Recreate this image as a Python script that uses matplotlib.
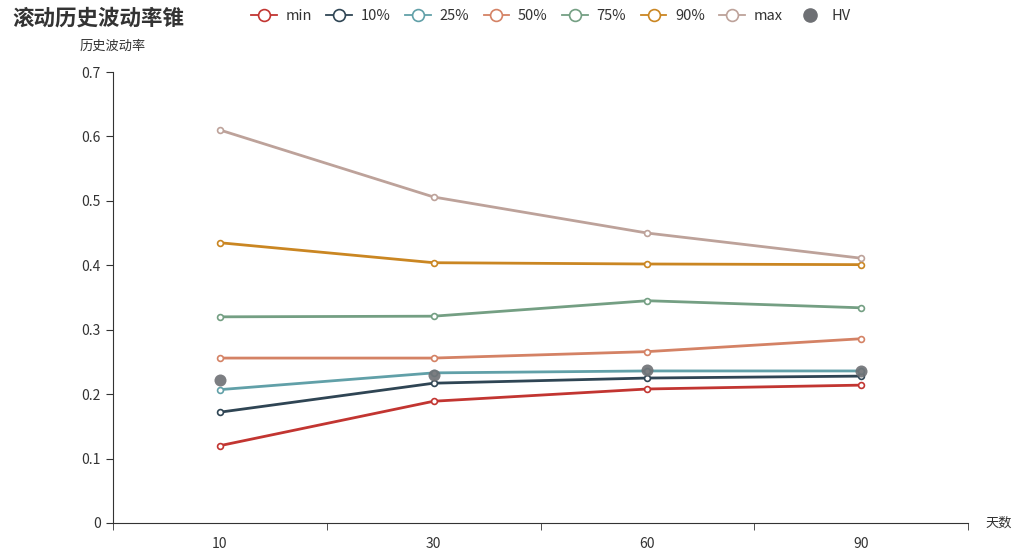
import numpy as np
import matplotlib.pyplot as plt
from matplotlib.lines import Line2D

plt.rcParams['font.family'] = ['Noto Sans CJK SC', 'DejaVu Sans']

# dados
dias = ['10', '30', '60', '90']
vol_min = [0.120, 0.189, 0.208, 0.214]
vol_10 = [0.172, 0.217, 0.225, 0.228]
vol_25 = [0.207, 0.233, 0.236, 0.236]
vol_50 = [0.256, 0.256, 0.266, 0.286]
vol_75 = [0.320, 0.321, 0.345, 0.334]
vol_90 = [0.435, 0.404, 0.402, 0.401]
vol_max = [0.610, 0.506, 0.450, 0.411]
hv = [0.222, 0.230, 0.238, 0.236]

nomes = ['min', '10%', '25%', '50%', '75%', '90%', 'max']
series = [vol_min, vol_10, vol_25, vol_50, vol_75, vol_90, vol_max]
cores = ['#c23531', '#2f4554', '#61a0a8', '#d48265', '#749f83', '#ca8622', '#bda29a']
cor_hv = '#6e7074'

fig = plt.figure(figsize=(10.17, 5.49), dpi=100)
ax = fig.add_axes([113 / 1017, 1 - 523 / 549, (968 - 113) / 1017, (523 - 72) / 549])

x = np.arange(len(dias))
handles = []
for nome, valores, cor in zip(nomes, series, cores):
    ax.plot(x, valores, color=cor, lw=2, marker='o', ms=4.2,
            mfc='white', mec=cor, mew=1.2, zorder=3)
    handles.append(Line2D([], [], color=cor, lw=1.3, marker='o', ms=8.5,
                          mfc='white', mec=cor, mew=1.2, label=nome))
ax.scatter(x, hv, s=75, color=cor_hv, alpha=0.9, zorder=4, lw=0)
handles.append(Line2D([], [], ls='none', marker='o', ms=9.5, color=cor_hv, label='HV'))

# eixos
ax.set_xlim(-0.5, len(dias) - 0.5)
ax.set_ylim(0, 0.7)
ax.set_yticks(np.arange(0, 0.71, 0.1))
ax.set_yticklabels(['0', '0.1', '0.2', '0.3', '0.4', '0.5', '0.6', '0.7'])
ax.set_xticks(x)
ax.set_xticklabels(dias)
ax.set_xticks(np.arange(-0.5, len(dias), 1), minor=True)
ax.tick_params(axis='x', which='major', length=0, pad=10, labelsize=10, colors='#333333')
ax.tick_params(axis='x', which='minor', length=5, color='#333333')
ax.tick_params(axis='y', length=5, pad=4, labelsize=10, colors='#333333')
for s in ['top', 'right']:
    ax.spines[s].set_visible(False)
for s in ['left', 'bottom']:
    ax.spines[s].set_color('#333333')

# textos
fig.text(12 / 1017, 1 - 18 / 549, '滚动历史波动率锥', fontsize=15.5, fontweight='bold',
         color='#333333', va='center', ha='left')
fig.text(113 / 1017, 1 - 46 / 549, '历史波动率', fontsize=9.5, color='#333333',
         va='center', ha='center')
fig.text(985 / 1017, 1 - 523 / 549, '天数', fontsize=9.5, color='#333333',
         va='center', ha='left')

fig.legend(handles=handles, ncol=8, loc='center left', frameon=False,
           bbox_to_anchor=(238 / 1017, 1 - 16 / 549), handlelength=1.75,
           handletextpad=0.6, columnspacing=1.0, fontsize=10.5, labelcolor='#333333')

fig.savefig('out.png', dpi=100, facecolor='white')
